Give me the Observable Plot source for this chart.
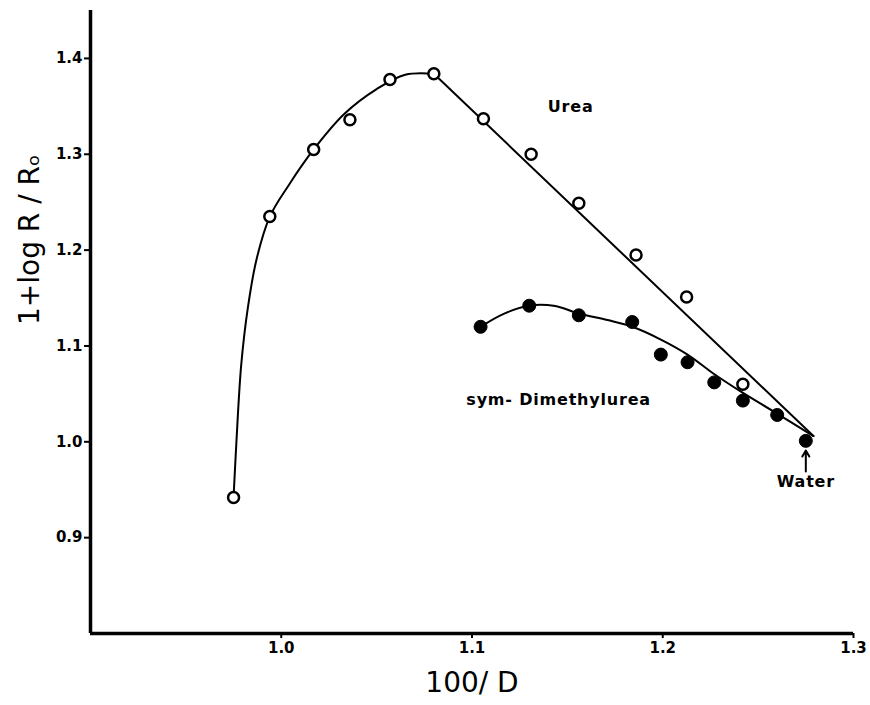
<!DOCTYPE html>
<html>
<head>
<meta charset="utf-8">
<script src="https://cdn.jsdelivr.net/npm/d3@7"></script>
<script src="https://cdn.jsdelivr.net/npm/@observablehq/plot@0.6"></script>
<style>
  html, body { margin: 0; padding: 0; background: #fff; }
  #chart svg { display: block; }
</style>
</head>
<body>
<div id="chart"></div>
<script>
// Measured points: Urea (open circles)
const ureaX = [0.975, 0.994, 1.017, 1.036, 1.057, 1.080, 1.106, 1.131, 1.156, 1.186, 1.2125, 1.242];
const ureaY = [0.942, 1.235, 1.305, 1.336, 1.378, 1.384, 1.337, 1.300, 1.249, 1.195, 1.151, 1.060];
// Measured points: sym-Dimethylurea (filled circles)
const dmuX = [1.1045, 1.130, 1.156, 1.184, 1.199, 1.213, 1.227, 1.242, 1.260, 1.275];
const dmuY = [1.120, 1.142, 1.132, 1.125, 1.091, 1.083, 1.062, 1.043, 1.028, 1.001];
// Drawn fitted curves
const ureaCurveX = [0.975, 0.9765, 0.979, 0.9825, 0.987, 0.994, 1.004, 1.017, 1.033, 1.050, 1.065, 1.080];
const ureaCurveY = [0.942, 1.000, 1.080, 1.140, 1.190, 1.235, 1.268, 1.305, 1.342, 1.368, 1.383, 1.384];
const ureaLineX = [1.080, 1.279];
const ureaLineY = [1.384, 1.006];
const dmuCurveX = [1.1045, 1.1166, 1.1297, 1.1428, 1.1564, 1.171, 1.184, 1.199, 1.213, 1.2267, 1.2408, 1.2597, 1.279];
const dmuCurveY = [1.120, 1.1335, 1.142, 1.142, 1.1337, 1.127, 1.120, 1.1067, 1.091, 1.071, 1.0526, 1.0297, 1.006];
// Axis ticks
const xTicks = [1.0, 1.1, 1.2, 1.3];
const yTicks = [0.9, 1.0, 1.1, 1.2, 1.3, 1.4];
// Annotations
const labels = [
  {text: "Urea", x: 1.1517, y: 1.349},
  {text: "sym- Dimethylurea", x: 1.1454, y: 1.044},
  {text: "Water", x: 1.275, y: 0.958}
];
const waterArrow = [{x: 1.275, y1: 0.969, y2: 0.991}];

const zip = (xs, ys) => xs.map((x, i) => ({x, y: ys[i]}));
const urea = zip(ureaX, ureaY);
const dmu = zip(dmuX, dmuY);
const ureaCurve = zip(ureaCurveX, ureaCurveY);
const ureaLine = zip(ureaLineX, ureaLineY);
const dmuCurve = zip(dmuCurveX, dmuCurveY);

const chart = Plot.plot({
  width: 870,
  height: 705,
  marginLeft: 90,
  marginRight: 17,
  marginTop: 10,
  marginBottom: 72,
  style: {fontFamily: "DejaVu Sans", background: "#fff", color: "#000"},
  x: {domain: [0.9, 1.3]},
  y: {domain: [0.8, 1.45]},
  marks: [
    Plot.axisX({ticks: xTicks, tickFormat: d3.format(".1f"), tickSize: 5, tickPadding: 4, label: null, fontSize: 15, fontWeight: "bold", strokeWidth: 2}),
    Plot.axisY({ticks: yTicks, tickFormat: d3.format(".1f"), tickSize: 6, tickPadding: 2, label: null, fontSize: 15, fontWeight: "bold", strokeWidth: 2}),
    Plot.ruleX([0.9], {stroke: "#000", strokeWidth: 3.5}),
    Plot.ruleY([0.8], {stroke: "#000", strokeWidth: 3.5}),
    Plot.line(ureaCurve, {x: "x", y: "y", curve: "catmull-rom", stroke: "#000", strokeWidth: 2}),
    Plot.line(ureaLine, {x: "x", y: "y", stroke: "#000", strokeWidth: 2}),
    Plot.line(dmuCurve, {x: "x", y: "y", curve: "catmull-rom", stroke: "#000", strokeWidth: 2}),
    Plot.dot(urea, {x: "x", y: "y", r: 5.5, fill: "#fff", stroke: "#000", strokeWidth: 2.5}),
    Plot.dot(dmu, {x: "x", y: "y", r: 6.5, fill: "#000", stroke: "#000", strokeWidth: 1}),
    Plot.arrow(waterArrow, {x1: "x", x2: "x", y1: "y1", y2: "y2", stroke: "#000", strokeWidth: 2, headLength: 8}),
    Plot.text(labels, {x: "x", y: "y", text: "text", fontSize: 16, fontWeight: "bold", fill: "#000", className: "anno"}),
    Plot.text(["100/ D"], {frameAnchor: "bottom", dy: 58, fontSize: 28, fill: "#000"}),
    Plot.text(["1+log R / Rₒ"], {frameAnchor: "left", rotate: -90, dx: -60, dy: 3, fontSize: 28, fill: "#000"})
  ]
});
d3.select(chart).selectAll(".anno text").attr("letter-spacing", "0.8");
document.getElementById("chart").appendChild(chart);
</script>
</body>
</html>
